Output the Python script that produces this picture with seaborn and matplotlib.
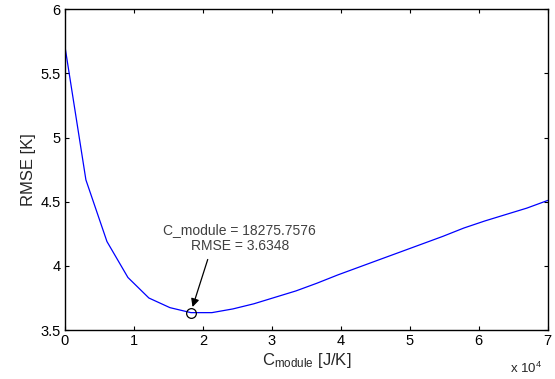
import matplotlib
matplotlib.use("Agg")
import matplotlib.pyplot as plt
import seaborn as sns
import numpy as np
import pandas as pd

# Data (x in units of 1e4 J/K)
c_module = [0.0, 0.304, 0.609, 0.913, 1.217, 1.522, 1.826, 2.130, 2.435, 2.739,
            3.043, 3.348, 3.652, 3.957, 4.261, 4.565, 4.870, 5.174, 5.478, 5.783,
            6.087, 6.391, 6.696, 7.0]
rmse = [5.71, 4.67, 4.19, 3.91, 3.75, 3.675, 3.636, 3.636, 3.665, 3.705,
        3.755, 3.805, 3.865, 3.93, 3.99, 4.05, 4.11, 4.17, 4.23, 4.295,
        4.35, 4.40, 4.45, 4.51]
min_x = 1.82757576
min_y = 3.6348
xticks = [0, 1, 2, 3, 4, 5, 6, 7]
yticks = [3.5, 4, 4.5, 5, 5.5, 6]

sns.set_theme(style="ticks")
plt.rcParams['font.family'] = ['Liberation Sans', 'DejaVu Sans']
plt.rcParams['mathtext.fontset'] = 'custom'
plt.rcParams['mathtext.rm'] = 'Liberation Sans'

fig = plt.figure(figsize=(5.55, 3.79), dpi=100)
ax = fig.add_axes([0.117, 0.129, 0.870, 0.847])

df = pd.DataFrame({"x": c_module, "y": rmse})
sns.lineplot(data=df, x="x", y="y", ax=ax, color="#0000ff", linewidth=0.9)

ax.plot([min_x], [min_y], marker="o", markersize=7, markerfacecolor="none",
        markeredgecolor="black", markeredgewidth=0.9, linestyle="none")

ax.text(2.536, 4.215, f"C_module = {min_x*1e4:.4f}\nRMSE = {min_y:.4f}",
        ha="center", va="center", color="#404040", fontsize=10,
        linespacing=1.15, multialignment="center")
ax.annotate("", xy=(1.85, 3.68), xytext=(2.07, 4.05),
            arrowprops=dict(arrowstyle="-|>", color="black", lw=0.9,
                            mutation_scale=12, shrinkA=0, shrinkB=0))

ax.set_xlim(0, 7)
ax.set_ylim(3.5, 6)
ax.set_xticks(xticks)
ax.set_yticks(yticks)
ax.set_xticklabels([str(t) for t in xticks])
ax.set_yticklabels([("%g" % t) for t in yticks])
ax.tick_params(direction="in", length=3, width=0.8, top=True, right=True,
               labelsize=10.5, colors="black", pad=3)
for s in ax.spines.values():
    s.set_linewidth(1.0)
    s.set_color("black")

ax.set_xlabel(r"$\mathregular{C_{module}}$ [J/K]", fontsize=12, labelpad=2)
ax.set_ylabel("RMSE [K]", fontsize=12, labelpad=3)
fig.text(0.977, 0.016, r"x 10$^{\mathregular{4}}$", ha="right", va="baseline",
         fontsize=9.5)

fig.savefig("out.png", dpi=100)
